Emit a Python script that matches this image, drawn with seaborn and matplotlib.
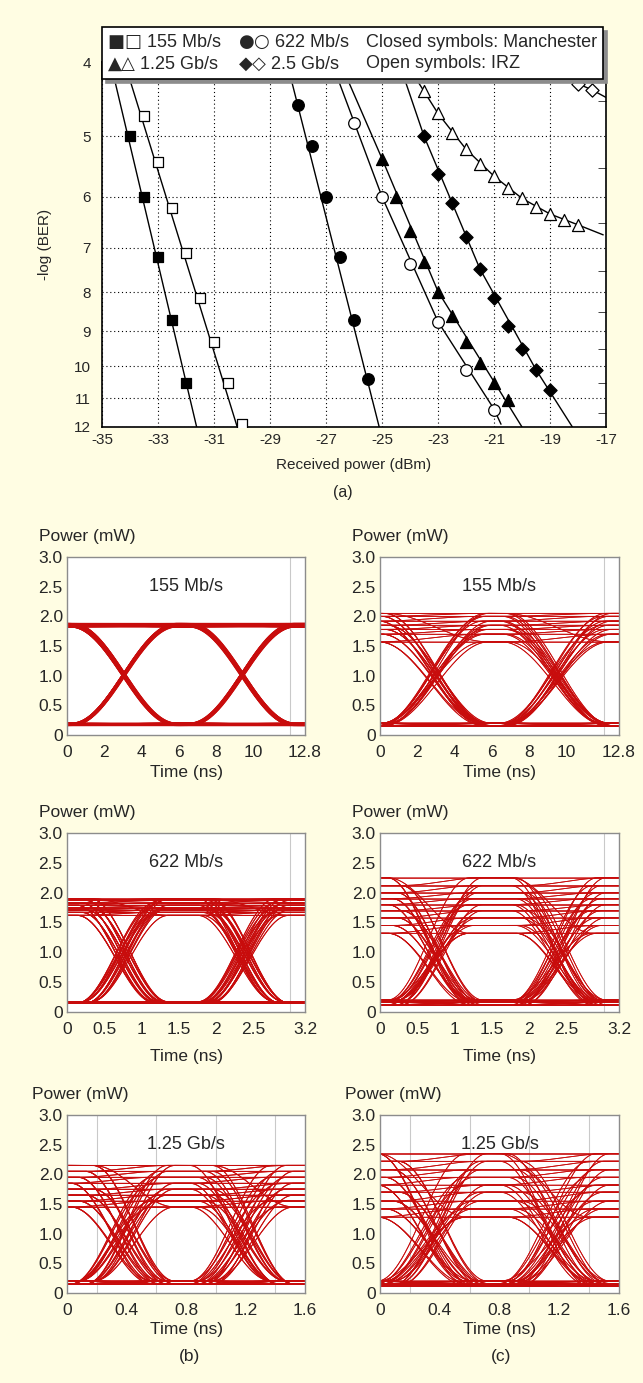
import itertools
import numpy as np
import pandas as pd
import matplotlib
matplotlib.use('Agg')
import matplotlib.pyplot as plt
import seaborn as sns
from matplotlib.lines import Line2D
from matplotlib.ticker import NullFormatter

sns.set_style('white')
plt.rcParams['font.family'] = ['Liberation Sans', 'DejaVu Sans']
plt.rcParams['axes.unicode_minus'] = False

# ---------------- (a) BER curves: markers ----------------
x155_man = [-34.0, -33.5, -33.0, -32.5, -32.0]
y155_man = [5.0, 6.0, 7.2, 8.7, 10.5]
x155_irz = [-33.5, -33.0, -32.5, -32.0, -31.5, -31.0, -30.5, -30.0]
y155_irz = [4.7, 5.4, 6.2, 7.1, 8.15, 9.3, 10.5, 11.9]
x622_man = [-28.0, -27.5, -27.0, -26.5, -26.0, -25.5]
y622_man = [4.55, 5.15, 6.0, 7.2, 8.7, 10.4]
x622_irz = [-26.0, -25.0, -24.0, -23.0, -22.0, -21.0]
y622_irz = [4.8, 6.0, 7.35, 8.75, 10.1, 11.4]
x1g25_man = [-25.0, -24.5, -24.0, -23.5, -23.0, -22.5, -22.0, -21.5, -21.0, -20.5]
y1g25_man = [5.35, 6.0, 6.65, 7.3, 8.0, 8.6, 9.3, 9.9, 10.5, 11.05]
x1g25_irz = [-23.5, -23.0, -22.5, -22.0, -21.5, -21.0, -20.5, -20.0, -19.5, -19.0, -18.5, -18.0]
y1g25_irz = [4.37, 4.67, 4.95, 5.2, 5.43, 5.64, 5.84, 6.03, 6.18, 6.32, 6.43, 6.53]
x2g5_man = [-23.5, -23.0, -22.5, -22.0, -21.5, -21.0, -20.5, -20.0, -19.5, -19.0]
y2g5_man = [5.0, 5.6, 6.12, 6.77, 7.46, 8.15, 8.86, 9.5, 10.1, 10.75]
x2g5_irz = [-18.0, -17.5]
y2g5_irz = [4.27, 4.35]

# fitted curves, vertices
fit155_man_x, fit155_man_y = [-34.7, -31.62], [4.0, 12.0]
fit155_irz_x, fit155_irz_y = [-34.2, -30.17], [4.0, 12.0]
fit622_man_x, fit622_man_y = [-28.4, -25.1], [4.0, 12.0]
fit622_irz_x = [-26.8, -25.0, -23.0, -21.0, -20.75]
fit622_irz_y = [4.0, 6.0, 8.74, 11.37, 11.9]
fit1g25_man_x = [-26.5, -25.0, -23.0, -21.0, -20.0]
fit1g25_man_y = [4.0, 5.35, 7.98, 10.47, 12.0]
fit1g25_irz_x = [-24.16, -23.0, -22.0, -21.0, -20.0, -19.0, -18.0, -17.1]
fit1g25_irz_y = [4.0, 4.67, 5.2, 5.64, 6.03, 6.32, 6.53, 6.73]
fit2g5_man_x = [-24.4, -23.5, -21.5, -19.5, -18.2]
fit2g5_man_y = [4.0, 5.0, 7.46, 10.1, 12.0]
fit2g5_irz_x = [-18.6, -18.0, -17.5, -17.0]
fit2g5_irz_y = [4.15, 4.27, 4.35, 4.45]

legend_labels = ['$\u25a0\u25a1$ 155 Mb/s', '$\u25b2\u25b3$ 1.25 Gb/s',
                 '$\u25cf\u25cb$ 622 Mb/s', '$\u25c6\u25c7$ 2.5 Gb/s',
                 'Closed symbols: Manchester', 'Open symbols: IRZ']

# ---------------- (b)/(c) eye diagrams: levels ----------------
eye_span = [12.8, 3.2, 1.6]
eye_rate = ['155 Mb/s', '622 Mb/s', '1.25 Gb/s']
eye_xticks = [[0, 2, 4, 6, 8, 10, 12.8], [0, 0.5, 1, 1.5, 2, 2.5, 3.2], [0, 0.4, 0.8, 1.2, 1.6]]
eye_xlabels = [['0', '2', '4', '6', '8', '10', '12.8'],
               ['0', '0.5', '1', '1.5', '2', '2.5', '3.2'],
               ['0', '0.4', '0.8', '1.2', '1.6']]
eye_grid = [2, 0.5, 0.2]
power_ticks = [0, 0.5, 1.0, 1.5, 2.0, 2.5, 3.0]
power_labels = ['0', '0.5', '1.0', '1.5', '2.0', '2.5', '3.0']

# Manchester (b)
man_cross = [[3.05, 9.42], [0.75, 2.37], [0.37, 1.17]]
man_edge = [5.6, 1.05, 0.55]
man_high = [[1.83, 1.85, 1.87],
            [1.62, 1.67, 1.71, 1.75, 1.79, 1.83, 1.87, 1.90],
            [1.45, 1.55, 1.65, 1.75, 1.85, 1.95, 2.05, 2.15]]
man_low = [[0.17, 0.19], [0.15, 0.17], [0.15, 0.20]]
man_jitter = [[-0.05, 0.0, 0.05], [-0.09, -0.03, 0.03, 0.09], [-0.07, -0.02, 0.03, 0.08]]
# IRZ (c)
irz_cross = [[2.98, 9.43], [0.75, 2.40], [0.35, 1.17]]
irz_edge = [5.6, 1.1, 0.6]
irz_high = [[1.57, 1.70, 1.78, 1.85, 1.92, 2.00, 2.05],
            [1.32, 1.45, 1.58, 1.70, 1.80, 1.90, 2.00, 2.12, 2.25],
            [1.28, 1.42, 1.55, 1.70, 1.82, 1.95, 2.08, 2.22, 2.35]]
irz_low = [[0.16, 0.20], [0.12, 0.17, 0.20], [0.12, 0.16, 0.20]]
irz_jitter = [[-0.25, -0.1, 0.05, 0.2], [-0.1, -0.04, 0.02, 0.08], [-0.07, -0.02, 0.03, 0.07]]

W, H = 643, 1383
BG = '#fffde3'
RED = '#c80c0c'

fig = plt.figure(figsize=(W / 100, H / 100), dpi=100, facecolor=BG)


def px_axes(l, t, r, b):
    return fig.add_axes([l / W, 1 - b / H, (r - l) / W, (b - t) / H])


def edge(u):
    return 0.5 - 0.5 * np.cos(np.pi * np.clip(u + 0.5, 0, 1))


def eye_frame(highs, lows, jitter, cross, width, span):
    t = np.linspace(0, span, 400)
    parts = []
    k = 0
    for bits in itertools.product([0, 1], repeat=3):
        for step in (0, 1):
            for i in range(len(highs)):
                lv = [highs[(i + j * step) % len(highs)] if b else lows[(i + j * step) % len(lows)]
                      for j, b in enumerate(bits)]
                c1 = cross[0] + jitter[i % len(jitter)]
                c2 = cross[1] + jitter[(i + 1) % len(jitter)]
                p = lv[0] + (lv[1] - lv[0]) * edge((t - c1) / width) + (lv[2] - lv[1]) * edge((t - c2) / width)
                parts.append(pd.DataFrame({'t': t, 'p': p, 'trace': k}))
                k += 1
    return pd.concat(parts, ignore_index=True)


# ---------------- panel (a) ----------------
ax = px_axes(102, 62, 606, 427)
ax.set_facecolor('white')

curves = [
    (fit155_man_x, fit155_man_y, x155_man, y155_man, 's', True, 55),
    (fit155_irz_x, fit155_irz_y, x155_irz, y155_irz, 's', False, 55),
    (fit622_man_x, fit622_man_y, x622_man, y622_man, 'o', True, 70),
    (fit622_irz_x, fit622_irz_y, x622_irz, y622_irz, 'o', False, 70),
    (fit1g25_man_x, fit1g25_man_y, x1g25_man, y1g25_man, '^', True, 75),
    (fit1g25_irz_x, fit1g25_irz_y, x1g25_irz, y1g25_irz, '^', False, 75),
    (fit2g5_man_x, fit2g5_man_y, x2g5_man, y2g5_man, 'D', True, 45),
    (fit2g5_irz_x, fit2g5_irz_y, x2g5_irz, y2g5_irz, 'D', False, 45),
]
for fx, fy, mx, my, mk, filled, size in curves:
    sns.lineplot(x=fx, y=fy, ax=ax, color='black', lw=1.0, sort=False, estimator=None)
    sns.scatterplot(x=mx, y=my, ax=ax, marker=mk, s=size,
                    color='black' if filled else 'white', edgecolor='black',
                    linewidth=0.9, zorder=3)

ax.set_yscale('log')
ax.set_xlim(-35, -17)
ax.set_ylim(12, 4)
ax.set_xticks(list(range(-35, -16, 2)))
ax.set_xticks(list(range(-34, -17, 2)), minor=True)
ax.set_yticks(list(range(4, 13)), [str(v) for v in range(4, 13)])
ax.set_yticks([v + 0.5 for v in range(4, 12)], minor=True)
ax.yaxis.set_minor_formatter(NullFormatter())
ax.grid(True, which='major', color='black', linestyle=(0, (1, 2.5)), lw=0.8)
ax.tick_params(axis='x', which='both', direction='in', length=5, labelsize=11, pad=4)
ax.tick_params(axis='y', which='major', direction='in', length=0, labelsize=11, pad=8)
ax.tick_params(axis='y', which='minor', direction='in', left=False, right=True, length=6)
for s in ax.spines.values():
    s.set_color('black')
    s.set_linewidth(1.2)
ax.set_xlabel('Received power (dBm)', fontsize=11, labelpad=8)
ax.set_ylabel('-log (BER)', fontsize=11, labelpad=16)

blank = [Line2D([], [], alpha=0) for _ in legend_labels]
leg = fig.legend(blank, legend_labels, ncol=3, loc='upper left', mode='expand',
                 bbox_to_anchor=(102 / W, 1 - 77 / H, 501 / W, 50 / H), fontsize=13,
                 handlelength=0, handletextpad=0, columnspacing=0.3,
                 borderpad=0.3, borderaxespad=0, labelspacing=0.18,
                 fancybox=False, framealpha=1, edgecolor='black',
                 shadow={'ox': 3, 'oy': -3, 'color': '#8c8c8c', 'alpha': 1})
leg.get_frame().set_linewidth(1.2)
fig.text(343 / W, 1 - 493 / H, '(a)', ha='center', va='center', fontsize=11.5)

# ---------------- panels (b) and (c) ----------------
rows_px = [(557, 735), (833, 1012), (1115, 1293)]
cols_px = [(67, 305), (380, 619)]
label_pad = [4, 9, 3]
for r in range(3):
    for c in range(2):
        top, bottom = rows_px[r]
        left, right = cols_px[c]
        ex = px_axes(left, top, right, bottom)
        ex.set_facecolor('white')
        if c == 0:
            df = eye_frame(man_high[r], man_low[r], man_jitter[r], man_cross[r], man_edge[r], eye_span[r])
            lw = 1.6 if r == 0 else 0.7
        else:
            df = eye_frame(irz_high[r], irz_low[r], irz_jitter[r], irz_cross[r], irz_edge[r], eye_span[r])
            lw = 0.6
        sns.lineplot(data=df, x='t', y='p', units='trace', estimator=None,
                     color=RED, lw=lw, ax=ex, sort=False)
        ex.set_xlim(0, eye_span[r])
        ex.set_ylim(0, 3)
        ex.set_xticks(eye_xticks[r], eye_xlabels[r])
        ex.set_yticks(power_ticks, power_labels)
        ex.set_xticks(np.arange(0, eye_span[r], eye_grid[r]), minor=True)
        ex.set_yticks(power_ticks, minor=True)
        ex.grid(False, which='major')
        ex.grid(True, which='minor', color='#c9c9c9', lw=0.8)
        ex.set_axisbelow(True)
        ex.tick_params(which='both', direction='in', length=3, color='#444444',
                       labelsize=12.5)
        ex.tick_params(axis='x', which='major', pad=7)
        ex.tick_params(axis='y', which='major', pad=3)
        for s in ex.spines.values():
            s.set_color('#8c8c8c')
            s.set_linewidth(1.0)
        ex.set_xlabel('Time (ns)', fontsize=12.5, labelpad=label_pad[r])
        ex.set_ylabel('')
        ex.text(0.5, 2.5 / 3, eye_rate[r], transform=ex.transAxes,
                ha='center', va='center', fontsize=13)
        ex.text(-(28 if r < 2 else 35) / (right - left), 1 + 20 / (bottom - top),
                'Power (mW)', transform=ex.transAxes, ha='left', va='center',
                fontsize=12.5)

fig.text(189 / W, 1 - 1357 / H, '(b)', ha='center', va='center', fontsize=12.5)
fig.text(501 / W, 1 - 1357 / H, '(c)', ha='center', va='center', fontsize=12.5)

fig.savefig('out.png', dpi=100, facecolor=fig.get_facecolor())
